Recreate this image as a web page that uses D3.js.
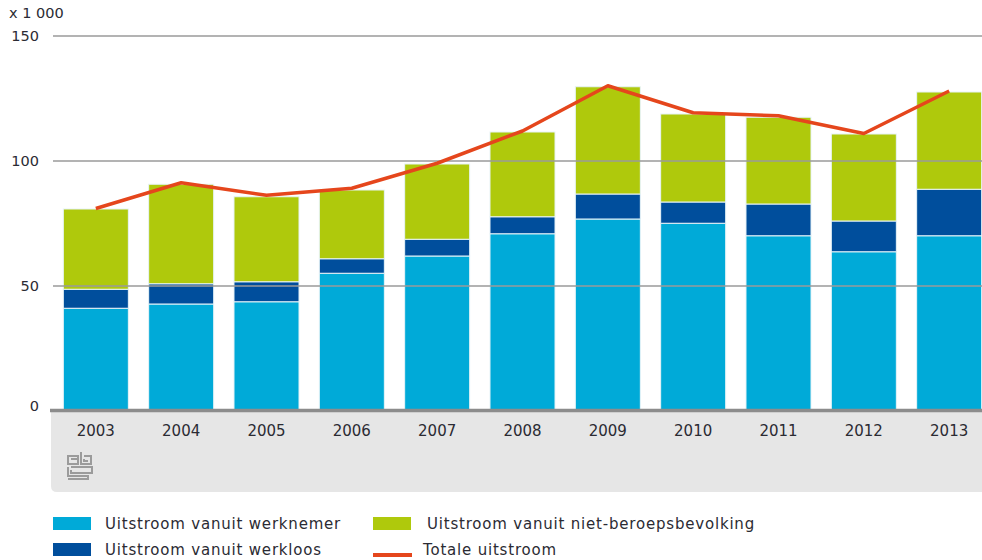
<!DOCTYPE html>
<html>
<head>
<meta charset="utf-8">
<script src="https://cdn.jsdelivr.net/npm/d3@7"></script>
<style>
  body { margin: 0; background: #fff; }
  svg text { font-family: "DejaVu Sans", "Open Sans", sans-serif; fill: #2b2b33; }
</style>
</head>
<body>
<svg id="chart" width="982" height="560"></svg>
<script>
years = ['2003', '2004', '2005', '2006', '2007', '2008', '2009', '2010', '2011', '2012', '2013'];
werknemer = [41.1, 42.8, 43.7, 55.1, 62.0, 70.9, 76.8, 75.1, 70.1, 63.7, 70.1];
werkloos = [7.6, 8.1, 8.0, 5.8, 6.7, 6.8, 10.0, 8.5, 12.7, 12.3, 18.6];
nietBeroeps = [32.1, 39.8, 34.0, 27.5, 30.1, 33.9, 42.9, 35.2, 34.7, 34.8, 38.9];
totaal = [81, 91.3, 86.3, 89.1, 99.1, 112, 130.1, 119.3, 118.1, 111, 128];
yTicks = [0, 50, 100, 150];

seriesKeys = ['werknemer', 'werkloos', 'nietBeroeps'];
seriesColors = { werknemer: '#00aad8', werkloos: '#004e9c', nietBeroeps: '#afc90c' };
lineColor = '#e5461c';

// table for the stack layout
table = years.map(function(y, i) {
    return { year: y, werknemer: werknemer[i], werkloos: werkloos[i], nietBeroeps: nietBeroeps[i] };
});

svg = d3.select('#chart');

x = d3.scaleBand()
    .domain(years)
    .range([53, 992])
    .paddingInner(0.238)
    .paddingOuter(0.121);

y = d3.scaleLinear()
    .domain([0, 150])
    .range([411, 36]);

// grey panel under the axis
svg.append('path')
    .attr('d', 'M51,411 H982 V492 H57 Q51,492 51,486 Z')
    .attr('fill', '#e6e6e6');

// stacked bars
stack = d3.stack().keys(seriesKeys);
layers = stack(table);

svg.append('g')
    .selectAll('g')
    .data(layers)
    .join('g')
    .attr('fill', function(d) { return seriesColors[d.key]; })
    .selectAll('rect')
    .data(function(d) { return d; })
    .join('rect')
    .attr('x', function(d) { return x(d.data.year); })
    .attr('y', function(d) { return y(d[1]); })
    .attr('width', x.bandwidth())
    .attr('height', function(d) { return y(d[0]) - y(d[1]); })
    .attr('stroke', '#e8f4f8')
    .attr('stroke-width', 1);

// gridlines (drawn on top of the bars, like the original)
svg.append('g')
    .selectAll('line')
    .data(yTicks.filter(function(t) { return t > 0; }))
    .join('line')
    .attr('x1', 53)
    .attr('x2', 982)
    .attr('y1', function(d) { return y(d); })
    .attr('y2', function(d) { return y(d); })
    .attr('stroke', '#9a9a9a')
    .attr('stroke-width', 1.5);

// baseline
svg.append('line')
    .attr('x1', 50)
    .attr('x2', 982)
    .attr('y1', y(0) - 0.5)
    .attr('y2', y(0) - 0.5)
    .attr('stroke', '#8c8c8c')
    .attr('stroke-width', 3.5);

// y labels
svg.append('g')
    .selectAll('text')
    .data(yTicks)
    .join('text')
    .attr('x', 39)
    .attr('y', function(d) { return d == 0 ? y(d) : y(d) + 5; })
    .attr('text-anchor', 'end')
    .attr('font-size', 14.5)
    .text(function(d) { return d; });

svg.append('text')
    .attr('x', 9)
    .attr('y', 18)
    .attr('font-size', 14.5)
    .text('x 1 000');

// x labels
svg.append('g')
    .selectAll('text')
    .data(years)
    .join('text')
    .attr('x', function(d) { return x(d) + x.bandwidth() / 2; })
    .attr('y', 436)
    .attr('text-anchor', 'middle')
    .attr('font-size', 15)
    .text(function(d) { return d; });

// total line
line = d3.line()
    .x(function(d, i) { return x(years[i]) + x.bandwidth() / 2; })
    .y(function(d) { return y(d); });

svg.append('path')
    .datum(totaal)
    .attr('d', line)
    .attr('fill', 'none')
    .attr('stroke', lineColor)
    .attr('stroke-width', 3.5)
    .attr('stroke-linejoin', 'round');

// cbs logo (rough)
logo = svg.append('g')
    .attr('transform', 'translate(67,451)')
    .attr('fill', 'none')
    .attr('stroke', '#9b9b9b')
    .attr('stroke-width', 2);
logo.append('path').attr('d', 'M1,5 H11 V13 H1 Z M4,8 H11');
logo.append('path').attr('d', 'M14,1 V13 H24 V5 H17 M17,8 V10 H21');
logo.append('path').attr('d', 'M1,16 V25 H21 V28 H1 M4,16 H25 V22 H4 V19');

// legend
legend1 = [
    { label: 'Uitstroom vanuit werknemer', color: seriesColors.werknemer, x: 53, y: 517, tx: 105 },
    { label: 'Uitstroom vanuit werkloos', color: seriesColors.werkloos, x: 53, y: 543, tx: 105 },
    { label: 'Uitstroom vanuit niet-beroepsbevolking', color: seriesColors.nietBeroeps, x: 373, y: 517, tx: 427 }
];
lg = svg.append('g');
lg.selectAll('rect')
    .data(legend1)
    .join('rect')
    .attr('x', function(d) { return d.x; })
    .attr('y', function(d) { return d.y; })
    .attr('width', 38)
    .attr('height', 13)
    .attr('fill', function(d) { return d.color; });
lg.selectAll('text')
    .data(legend1)
    .join('text')
    .attr('x', function(d) { return d.tx; })
    .attr('y', function(d) { return d.y + 12; })
    .attr('font-size', 15)
    .attr('letter-spacing', 0.8)
    .text(function(d) { return d.label; });

lg.append('rect')
    .attr('x', 373)
    .attr('y', 553)
    .attr('width', 39)
    .attr('height', 4)
    .attr('fill', lineColor);
lg.append('text')
    .attr('x', 423)
    .attr('y', 555)
    .attr('font-size', 15)
    .attr('letter-spacing', 0.8)
    .text('Totale uitstroom');
</script>
</body>
</html>
